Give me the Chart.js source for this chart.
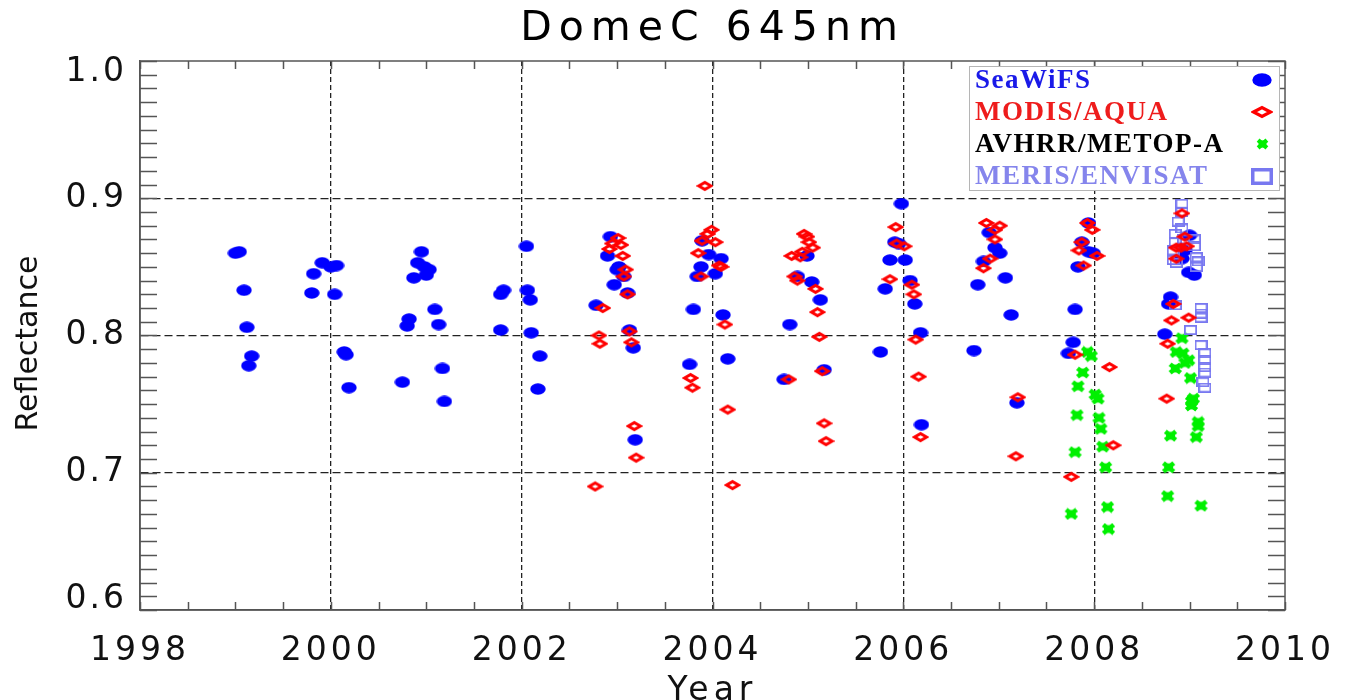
<!DOCTYPE html>
<html>
<head>
<meta charset="utf-8">
<title>DomeC 645nm</title>
<script src="https://cdn.jsdelivr.net/npm/chart.js@4.4.1/dist/chart.umd.min.js"></script>
<style>
  html, body { margin: 0; padding: 0; background: #fff; }
  canvas { display: block; }
</style>
</head>
<body>
<canvas id="domec" width="1349" height="700"></canvas>
<script>
// series names (legend order)
const seriesNames = ['SeaWiFS', 'MODIS/AQUA', 'AVHRR/METOP-A', 'MERIS/ENVISAT'];

// axis ticks
const yearTicks = [1998, 2000, 2002, 2004, 2006, 2008, 2010];
const reflTicks = [0.6, 0.7, 0.8, 0.9, 1.0];

// SeaWiFS
const seawifsYear = [1999.00, 1999.04, 1999.09, 1999.12, 1999.17, 1999.14, 1999.82, 1999.91, 2000.00, 2000.06,
    1999.80, 2000.04, 2000.14, 2000.16, 2000.19, 2000.95, 2000.91, 2000.98, 2001.03, 2001.00,
    2000.87, 2001.09, 2000.82, 2000.80, 2001.13, 2001.17, 2000.75, 2001.19, 2002.05, 2001.78,
    2001.81, 2002.06, 2002.09, 2001.78, 2002.10, 2002.19, 2002.17, 2002.93, 2002.90, 2003.02,
    2003.00, 2003.07, 2002.97, 2003.11, 2002.78, 2003.13, 2003.17, 2003.19, 2003.89, 2003.96,
    2004.09, 2003.88, 2004.03, 2003.84, 2003.80, 2004.11, 2003.76, 2004.16, 2004.99, 2004.89,
    2005.04, 2005.13, 2004.81, 2005.17, 2004.75, 2005.98, 2005.91, 2005.95, 2005.86, 2006.02,
    2006.07, 2005.81, 2006.12, 2006.18, 2005.76, 2006.19, 2006.90, 2006.96, 2007.01, 2006.84,
    2007.07, 2006.78, 2007.13, 2006.74, 2007.19, 2007.94, 2007.87, 2007.94, 2007.99, 2007.83,
    2007.80, 2007.78, 2007.73, 2009.00, 2008.95, 2008.92, 2008.99, 2009.05, 2008.80, 2008.78,
    2008.74];
const seawifsRefl = [0.860, 0.861, 0.833, 0.806, 0.785, 0.778, 0.845, 0.853, 0.850, 0.851,
    0.831, 0.830, 0.788, 0.786, 0.762, 0.861, 0.853, 0.850, 0.848, 0.844,
    0.842, 0.819, 0.812, 0.807, 0.808, 0.776, 0.766, 0.752, 0.865, 0.830,
    0.833, 0.833, 0.826, 0.804, 0.802, 0.785, 0.761, 0.872, 0.858, 0.850,
    0.848, 0.843, 0.837, 0.831, 0.822, 0.804, 0.791, 0.724, 0.869, 0.859,
    0.856, 0.850, 0.845, 0.843, 0.819, 0.815, 0.779, 0.783, 0.858, 0.843,
    0.839, 0.826, 0.808, 0.775, 0.768, 0.896, 0.868, 0.867, 0.855, 0.855,
    0.840, 0.834, 0.823, 0.802, 0.788, 0.735, 0.875, 0.864, 0.860, 0.854,
    0.842, 0.837, 0.815, 0.789, 0.751, 0.882, 0.868, 0.861, 0.860, 0.850,
    0.819, 0.795, 0.787, 0.873, 0.862, 0.856, 0.846, 0.844, 0.828, 0.823,
    0.801];

// MODIS/AQUA
const modisYear = [2002.77, 2002.81, 2002.82, 2002.85, 2002.92, 2002.95, 2003.01, 2003.04, 2003.06, 2003.09,
    2003.07, 2003.11, 2003.13, 2003.15, 2003.18, 2003.20, 2003.77, 2003.79, 2003.85, 2003.88,
    2003.89, 2003.92, 2003.95, 2003.99, 2004.03, 2004.07, 2004.09, 2004.13, 2004.16, 2004.21,
    2004.80, 2004.83, 2004.86, 2004.89, 2004.92, 2004.94, 2004.96, 2004.99, 2005.01, 2005.05,
    2005.08, 2005.10, 2005.12, 2005.15, 2005.17, 2005.19, 2005.86, 2005.92, 2005.93, 2006.01,
    2006.09, 2006.11, 2006.13, 2006.16, 2006.18, 2006.84, 2006.87, 2006.91, 2006.96, 2006.96,
    2007.01, 2007.18, 2007.20, 2007.76, 2007.80, 2007.84, 2007.87, 2007.89, 2007.93, 2007.98,
    2008.03, 2008.16, 2008.20, 2008.76, 2008.77, 2008.81, 2008.83, 2008.86, 2008.86, 2008.91,
    2008.92, 2008.95, 2008.97, 2008.99];
const modisRefl = [0.690, 0.800, 0.794, 0.820, 0.863, 0.867, 0.871, 0.866, 0.858, 0.848,
    0.843, 0.830, 0.803, 0.795, 0.734, 0.711, 0.769, 0.762, 0.860, 0.843,
    0.869, 0.909, 0.874, 0.877, 0.868, 0.851, 0.850, 0.808, 0.746, 0.691,
    0.768, 0.858, 0.843, 0.840, 0.857, 0.861, 0.874, 0.872, 0.868, 0.864,
    0.834, 0.817, 0.799, 0.774, 0.736, 0.723, 0.841, 0.879, 0.867, 0.865,
    0.837, 0.830, 0.797, 0.770, 0.726, 0.849, 0.882, 0.856, 0.877, 0.870,
    0.880, 0.712, 0.755, 0.697, 0.786, 0.862, 0.868, 0.851, 0.882, 0.877,
    0.858, 0.777, 0.720, 0.754, 0.794, 0.811, 0.823, 0.856, 0.864, 0.864,
    0.889, 0.872, 0.865, 0.813];

// AVHRR/METOP-A
const avhrrYear = [2007.76, 2007.80, 2007.82, 2007.83, 2007.88, 2007.93, 2007.97, 2008.01, 2008.04, 2008.05,
    2008.07, 2008.09, 2008.12, 2008.14, 2008.15, 2008.77, 2008.78, 2008.80, 2008.85, 2008.86,
    2008.92, 2008.93, 2008.95, 2008.99, 2009.01, 2009.02, 2009.04, 2009.02, 2009.09, 2009.09,
    2009.07, 2009.12];
const avhrrRefl = [0.670, 0.715, 0.742, 0.763, 0.773, 0.788, 0.785, 0.757, 0.754, 0.740,
    0.732, 0.719, 0.704, 0.675, 0.659, 0.683, 0.704, 0.727, 0.776, 0.788,
    0.798, 0.787, 0.780, 0.782, 0.769, 0.752, 0.754, 0.749, 0.737, 0.734,
    0.726, 0.676];

// MERIS/ENVISAT
const merisYear = [2008.83, 2008.83, 2008.85, 2008.85, 2008.86, 2008.88, 2008.92, 2008.92, 2008.92, 2008.94,
    2009.05, 2009.05, 2009.07, 2009.09, 2009.07, 2008.85, 2009.12, 2009.12, 2009.12, 2009.01,
    2009.12, 2009.16, 2009.16, 2009.16, 2009.16, 2009.14, 2009.16];
const merisRefl = [0.855, 0.862, 0.868, 0.874, 0.853, 0.883, 0.878, 0.890, 0.896, 0.870,
    0.870, 0.865, 0.857, 0.854, 0.850, 0.822, 0.820, 0.816, 0.813, 0.804,
    0.793, 0.787, 0.782, 0.777, 0.773, 0.766, 0.762];

const colors = {
    seawifs: '#0000ff',
    modis: '#ff0000',
    avhrr: '#00f000',
    meris: '#7878f0'
};
const legendText = ['#1a1ae8', '#ee1c1c', '#000000', '#8585ec'];

function toPoints(xs, ys) {
    return xs.map((x, i) => ({ x: x, y: ys[i] }));
}

// small canvases used as point styles
function markerCanvas(w, h, paint) {
    const c = document.createElement('canvas');
    c.width = w;
    c.height = h;
    paint(c.getContext('2d'), w, h);
    return c;
}
const dot = (w, h) => markerCanvas(w, h, (g) => {
    g.fillStyle = colors.seawifs;
    g.beginPath();
    g.ellipse(w / 2, h / 2, w / 2 - 0.3, h / 2 - 0.3, 0, 0, Math.PI * 2);
    g.fill();
});
const diamond = (w, h, lw) => markerCanvas(w, h, (g) => {
    g.strokeStyle = colors.modis;
    g.lineWidth = lw;
    g.lineJoin = 'miter';
    g.beginPath();
    g.moveTo(lw * 0.8, h / 2);
    g.lineTo(w / 2, lw * 0.8);
    g.lineTo(w - lw * 0.8, h / 2);
    g.lineTo(w / 2, h - lw * 0.8);
    g.closePath();
    g.stroke();
});
const star = (w, h, lw) => markerCanvas(w, h, (g) => {
    g.strokeStyle = colors.avhrr;
    g.fillStyle = colors.avhrr;
    g.lineWidth = lw;
    g.beginPath();
    g.moveTo(lw / 2, lw / 2); g.lineTo(w - lw / 2, h - lw / 2);
    g.moveTo(w - lw / 2, lw / 2); g.lineTo(lw / 2, h - lw / 2);
    g.stroke();
    g.fillRect(w * 0.2, h * 0.2, w * 0.6, h * 0.6);
});
const square = (w, h, lw) => markerCanvas(w, h, (g) => {
    g.strokeStyle = colors.meris;
    g.lineWidth = lw;
    g.strokeRect(lw / 2, lw / 2, w - lw, h - lw);
});

const pointMarks = [dot(16, 12), diamond(17, 12, 3), star(15, 13, 4.6), square(13, 10, 1.8)];
const legendMarks = [dot(20, 14), diamond(22, 14, 3.2), star(13, 12, 4.2), square(22, 17, 3.5)];

// letter spacing for canvas text drawn by the library
function spaced(target, method, spacing, shiftY) {
    if (!target || target['_sp_' + method]) return;
    const orig = target[method];
    target[method] = function (...args) {
        const ctx = this.ctx;
        ctx.save();
        ctx.letterSpacing = spacing;
        if (shiftY) ctx.translate(0, shiftY);
        try {
            return orig.apply(this, args);
        } finally {
            ctx.restore();
        }
    };
    target['_sp_' + method] = true;
}

// pull the end labels of the value axis inside the frame, as in the original
function tuckEndLabels(scale, shift) {
    if (!scale || scale._tucked) return;
    const orig = scale._computeLabelItems;
    scale._computeLabelItems = function (...args) {
        const items = orig.apply(this, args);
        if (items.length > 1) {
            items[0].options.translation[1] -= shift;
            items[items.length - 1].options.translation[1] += shift;
        }
        return items;
    };
    scale._tucked = true;
}

const framePlugin = {
    id: 'frame',
    afterLayout(chart) {
        spaced(chart.scales.x, 'drawLabels', '4px');
        spaced(chart.scales.x, 'drawTitle', '5px');
        spaced(chart.scales.y, 'drawLabels', '3px');
        spaced(chart.scales.y, 'drawTitle', '0px', 8);
        spaced(chart.titleBlock, 'draw', '7px');
        tuckEndLabels(chart.scales.y, 11);
    },
    beforeDatasetsDraw(chart) {
        const { ctx, chartArea: a, scales: { x, y } } = chart;
        ctx.save();
        ctx.strokeStyle = '#555';
        ctx.lineWidth = 1.5;
        ctx.beginPath();
        // minor ticks every half year, pointing inward
        for (let k = 0; k <= 24; k++) {
            const px = Math.round(x.getPixelForValue(1998 + k * 0.5)) + 0.5;
            ctx.moveTo(px, a.bottom); ctx.lineTo(px, a.bottom - 8);
            ctx.moveTo(px, a.top); ctx.lineTo(px, a.top + 8);
        }
        // minor ticks every 0.01
        for (let k = 0; k <= 40; k++) {
            const py = Math.round(y.getPixelForValue(0.6 + k * 0.01)) + 0.5;
            ctx.moveTo(a.left, py); ctx.lineTo(a.left + 17, py);
            ctx.moveTo(a.right, py); ctx.lineTo(a.right - 17, py);
        }
        ctx.stroke();
        ctx.strokeRect(a.left, a.top, a.right - a.left, a.bottom - a.top);
        ctx.restore();
    },
    afterDraw(chart) {
        const { ctx, chartArea: a } = chart;
        const L = a.right - 316, T = a.top + 5, R = a.right - 6, B = a.top + 129;
        ctx.save();
        ctx.fillStyle = '#ffffff';
        ctx.fillRect(L, T, R - L, B - T);
        ctx.strokeStyle = '#b5b5b5';
        ctx.lineWidth = 1;
        ctx.strokeRect(L + 0.5, T + 0.5, R - L, B - T);
        ctx.font = 'bold 27px "Liberation Serif", "Times New Roman", serif';
        ctx.letterSpacing = '1.5px';
        ctx.textBaseline = 'middle';
        ctx.textAlign = 'left';
        chart.data.datasets.forEach((ds, i) => {
            const cy = T + 14 + 32 * i;
            ctx.fillStyle = legendText[i];
            ctx.fillText(ds.label, L + 6, cy + 1);
            const m = legendMarks[i];
            ctx.drawImage(m, Math.round(R - 17 - m.width / 2), Math.round(cy - m.height / 2));
        });
        ctx.restore();
    }
};

const sans = '"DejaVu Sans", Verdana, sans-serif';
const tickFont = { family: sans, size: 33 };

const chart = new Chart(document.getElementById('domec').getContext('2d'), {
    type: 'scatter',
    data: {
        datasets: [
            { label: seriesNames[0], data: toPoints(seawifsYear, seawifsRefl), pointStyle: pointMarks[0], order: 4 },
            { label: seriesNames[1], data: toPoints(modisYear, modisRefl), pointStyle: pointMarks[1], order: 1 },
            { label: seriesNames[2], data: toPoints(avhrrYear, avhrrRefl), pointStyle: pointMarks[2], order: 3 },
            { label: seriesNames[3], data: toPoints(merisYear, merisRefl), pointStyle: pointMarks[3], order: 2 }
        ].map(ds => ({ ...ds, pointRadius: 6, showLine: false }))
    },
    options: {
        responsive: false,
        animation: false,
        events: [],
        layout: { padding: { left: 0, right: 62, top: 0, bottom: 0 } },
        plugins: {
            legend: { display: false },
            tooltip: { enabled: false },
            title: {
                display: true,
                text: 'DomeC 645nm',
                color: '#000',
                fullSize: false,
                font: { family: sans, size: 41, weight: 'normal' },
                padding: { top: 5, bottom: 6.8 }
            }
        },
        scales: {
            x: {
                type: 'linear',
                min: yearTicks[0],
                max: yearTicks[yearTicks.length - 1],
                afterBuildTicks: (scale) => { scale.ticks = yearTicks.map(v => ({ value: v })); },
                afterFit: (scale) => { scale.height = 90; },
                ticks: {
                    autoSkip: false,
                    maxRotation: 0,
                    padding: 22,
                    color: '#111',
                    font: tickFont,
                    callback: (v) => String(v)
                },
                grid: {
                    drawTicks: false,
                    lineWidth: 1.3,
                    color: (c) => (c.tick && (c.tick.value === yearTicks[0] || c.tick.value === yearTicks[yearTicks.length - 1])) ? 'rgba(0,0,0,0)' : '#222'
                },
                border: { display: true, color: '#555', width: 1.5, dash: [5, 3] },
                title: {
                    display: true,
                    text: 'Year',
                    color: '#111',
                    font: { family: sans, size: 33, lineHeight: 0.6 },
                    padding: { top: 0, bottom: -1 }
                }
            },
            y: {
                type: 'linear',
                min: reflTicks[0],
                max: reflTicks[reflTicks.length - 1],
                afterBuildTicks: (scale) => { scale.ticks = reflTicks.map(v => ({ value: v })); },
                afterFit: (scale) => { scale.width = 140; },
                ticks: {
                    padding: 13,
                    color: '#111',
                    font: tickFont,
                    callback: (v) => Number(v).toFixed(1)
                },
                grid: {
                    drawTicks: false,
                    lineWidth: 1.3,
                    color: (c) => (c.tick && (c.tick.value === reflTicks[0] || c.tick.value === reflTicks[reflTicks.length - 1])) ? 'rgba(0,0,0,0)' : '#222'
                },
                border: { display: true, color: '#555', width: 1.5, dash: [8, 4] },
                title: {
                    display: true,
                    text: 'Reflectance',
                    color: '#111',
                    font: { family: sans, size: 30 },
                    padding: { top: 11, bottom: 0 }
                }
            }
        }
    },
    plugins: [framePlugin]
});
</script>
</body>
</html>
